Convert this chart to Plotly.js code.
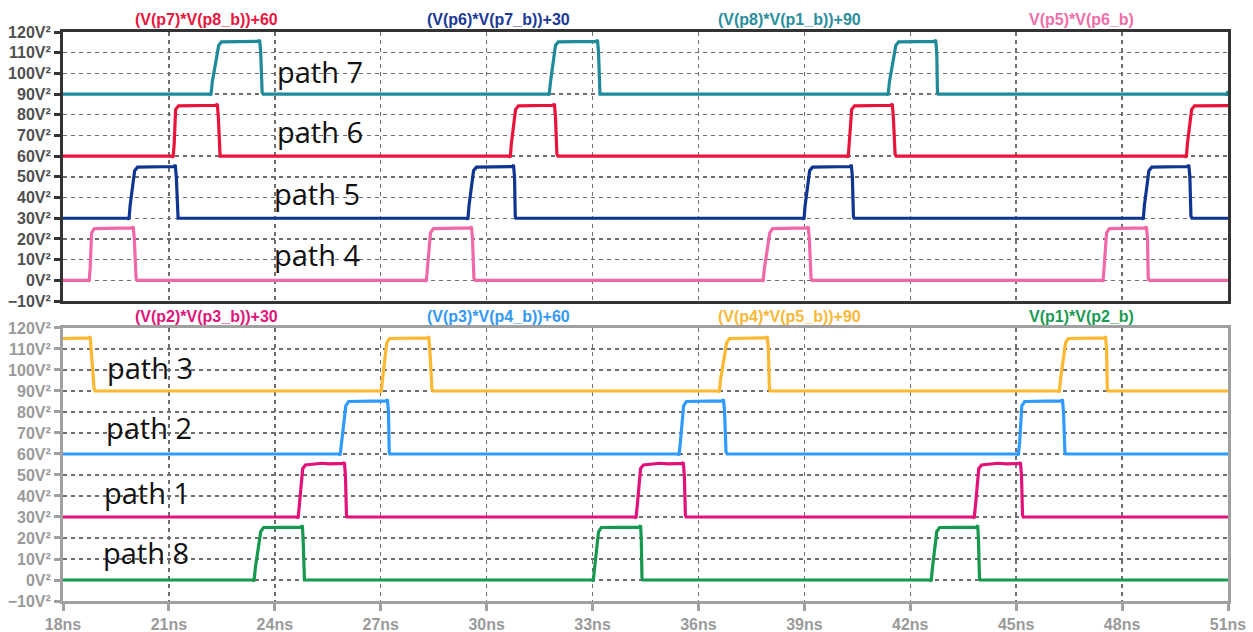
<!DOCTYPE html>
<html><head><meta charset="utf-8">
<script src="https://cdn.plot.ly/plotly-3.0.1.min.js"></script>
<style>html,body{margin:0;padding:0;background:#fff}#chart{width:1253px;height:632px}</style>
</head><body><div id="chart"></div><script>
// ---------- data (time in ns, raw product value in V^2) ----------
// top panel
const tP5P6 = [18,
 18.71,18.74,18.77,18.81,18.89,19.96,19.99,20.02,20.07,20.10,
 28.26,28.29,28.32,28.41,28.49,29.54,29.57,29.60,29.64,29.67,
 37.80,37.83,37.87,38.02,38.10,39.08,39.11,39.14,39.19,39.22,
 47.43,47.46,47.49,47.56,47.64,48.66,48.69,48.72,48.74,48.77,
 51];
const vP5P6 = [0,
 0,-0.6,6,23,25,25.3,26,20,1,0,
 0,-0.6,6,23,25,25.3,26,20,1,0,
 0,-0.6,6,23,25,25.3,26,20,1,0,
 0,-0.6,6,23,25,25.3,26,20,1,0,
 0];
const tP6P7 = [18,
 19.84,19.87,19.90,20.03,20.11,21.15,21.18,21.21,21.24,21.26,
 29.44,29.47,29.50,29.63,29.71,30.73,30.76,30.79,30.81,30.83,
 38.96,38.99,39.02,39.15,39.23,40.30,40.33,40.36,40.39,40.41,
 48.57,48.60,48.63,48.76,48.84,49.86,49.89,49.92,49.95,49.98,
 51];
const vP6P7 = [0,
 0,-0.6,6,23,24.7,25,25.8,20,1,0,
 0,-0.6,6,23,24.7,25,25.8,20,1,0,
 0,-0.6,6,23,24.7,25,25.8,20,1,0,
 0,-0.6,6,23,24.7,25,25.8,20,1,0,
 0];
const tP7P8 = [18,
 21.09,21.12,21.15,21.19,21.27,22.34,22.37,22.40,22.43,22.45,
 30.64,30.67,30.70,30.82,30.90,31.89,31.92,31.95,31.99,32.02,
 40.21,40.24,40.27,40.34,40.42,41.46,41.49,41.52,41.57,41.60,
 49.79,49.82,49.85,49.97,50.05,
 51];
const vP7P8 = [0,
 0,-0.6,6,22.5,24.3,24.6,25.3,19,1,0,
 0,-0.6,6,22.5,24.3,24.6,25.3,19,1,0,
 0,-0.6,6,22.5,24.3,24.6,25.3,19,1,0,
 0,-0.6,6,22.5,24.3,
 24.4];
const tP8P1 = [18,
 22.16,22.19,22.23,22.41,22.49,23.54,23.57,23.60,23.64,23.67,
 31.74,31.77,31.81,31.95,32.03,33.11,33.14,33.17,33.19,33.21,
 41.34,41.37,41.41,41.59,41.67,42.69,42.72,42.75,42.77,42.79,
 50.94,50.97,51];
const vP8P1 = [0,
 0,-0.6,6,23.5,25.2,25.5,26.2,20,1,0,
 0,-0.6,6,23.5,25.2,25.5,26.2,20,1,0,
 0,-0.6,6,23.5,25.2,25.5,26.2,20,1,0,
 0,-0.6,1.5];

// bottom panel
const tP4P5 = [18,18.74,18.77,18.80,18.88,18.91,
 26.98,27.01,27.05,27.17,27.25,28.33,28.36,28.39,28.45,28.48,
 36.56,36.59,36.63,36.80,36.88,37.92,37.95,37.98,38.01,38.03,
 46.19,46.22,46.26,46.40,46.48,47.50,47.53,47.56,47.58,47.60,
 51];
const vP4P5 = [25,25.3,26,20,1,0,
 0,-0.6,6,23,25,25.3,26,20,1,0,
 0,-0.6,6,23,25,25.3,26,20,1,0,
 0,-0.6,6,23,25,25.3,26,20,1,0,
 0];
const tP3P4 = [18,
 25.82,25.85,25.89,26.01,26.09,27.16,27.19,27.22,27.24,27.26,
 35.42,35.45,35.49,35.58,35.66,36.68,36.71,36.74,36.78,36.81,
 45.03,45.06,45.10,45.16,45.24,46.28,46.31,46.34,46.38,46.41,
 51];
const vP3P4 = [0,
 0,-0.6,6,23,25,25.3,26,20,1,0,
 0,-0.6,6,23,25,25.3,26,20,1,0,
 0,-0.6,6,23,25,25.3,26,20,1,0,
 0];
const tP2P3 = [18,
 24.63,24.66,24.70,24.79,24.87,25.33,25.55,25.94,25.97,26.00,26.03,26.05,
 34.20,34.23,34.27,34.36,34.44,34.90,35.15,35.54,35.57,35.60,35.63,35.65,
 43.78,43.81,43.85,43.94,44.02,44.48,44.73,45.09,45.12,45.15,45.18,45.20,
 51];
const vP2P3 = [0,
 0,-0.6,6,23,24.8,25.6,25.3,25.5,26,20,1,0,
 0,-0.6,6,23,24.8,25.6,25.3,25.5,26,20,1,0,
 0,-0.6,6,23,24.8,25.6,25.3,25.5,26,20,1,0,
 0];
const tP1P2 = [18,
 23.38,23.41,23.45,23.60,23.68,24.75,24.78,24.80,24.82,24.84,
 32.99,33.02,33.06,33.17,33.25,34.33,34.36,34.38,34.40,34.42,
 42.56,42.59,42.63,42.75,42.83,43.88,43.91,43.93,43.96,43.98,
 51];
const vP1P2 = [0,
 0,-0.6,6,23,25,25.2,26,20,1,0,
 0,-0.6,6,23,25,25.2,26,20,1,0,
 0,-0.6,6,23,25,25.2,26,20,1,0,
 0];

const seriesNames = ['(V(p7)*V(p8_b))+60','(V(p6)*V(p7_b))+30','(V(p8)*V(p1_b))+90','V(p5)*V(p6_b)',
                     '(V(p2)*V(p3_b))+30','(V(p3)*V(p4_b))+60','(V(p4)*V(p5_b))+90','V(p1)*V(p2_b)'];
const seriesOffsets = [60,30,90,0, 30,60,90,0];
const pathLabels = ['path 7','path 6','path 5','path 4','path 3','path 2','path 1','path 8'];

// ---------- build ----------
const series = [
 {t:tP7P8, v:vP7P8, c:'#e8143c', panel:'top'},
 {t:tP6P7, v:vP6P7, c:'#0e3592', panel:'top'},
 {t:tP8P1, v:vP8P1, c:'#1f8a99', panel:'top'},
 {t:tP5P6, v:vP5P6, c:'#f068a8', panel:'top'},
 {t:tP2P3, v:vP2P3, c:'#e3127a', panel:'bot'},
 {t:tP3P4, v:vP3P4, c:'#2f9bff', panel:'bot'},
 {t:tP4P5, v:vP4P5, c:'#fdb832', panel:'bot'},
 {t:tP1P2, v:vP1P2, c:'#14994e', panel:'bot'}
];
const titleColors = ['#e8163c','#1a3a96','#2a8e9c','#ef6ea9','#e0157a','#3399f5','#f8b93a','#1a9a52'];

const traces = series.map((s,i)=>({
  type:'scatter', mode:'lines', name:seriesNames[i],
  x:s.t, y:s.v.map(v=>v+seriesOffsets[i]),
  xaxis: s.panel==='top'?'x2':'x', yaxis: s.panel==='top'?'y2':'y',
  line:{color:s.c, width:3.2, shape:'linear'}, hoverinfo:'skip'
}));

const FONT = '"Liberation Sans", Arial, sans-serif';
const titleX = [22.07, 30.34, 38.59, 46.84];
const annotations = [];
seriesNames.forEach((n,i)=>{
  annotations.push({text:n, xref:'x', yref:'paper', x:titleX[i%4], y: i<4?1.0225:0.4995,
    xanchor:'center', yanchor:'middle', showarrow:false,
    font:{family:FONT, size:16, color:titleColors[i], weight:'bold'}});
});
const labelPos = [
 {x:25.28,y:101,ax:'x2',ay:'y2'},{x:25.28,y:71.7,ax:'x2',ay:'y2'},
 {x:25.2,y:42.2,ax:'x2',ay:'y2'},{x:25.2,y:12.3,ax:'x2',ay:'y2'},
 {x:20.46,y:101.4,ax:'x',ay:'y'},{x:20.43,y:72.4,ax:'x',ay:'y'},
 {x:20.38,y:41.9,ax:'x',ay:'y'},{x:20.35,y:12.9,ax:'x',ay:'y'}
];
pathLabels.forEach((p,i)=>{
  const L = labelPos[i];
  annotations.push({text:p, xref:L.ax, yref:L.ay, x:L.x, y:L.y, xanchor:'center', yanchor:'middle',
    showarrow:false, font:{family:'"Open Sans", sans-serif', size:29, color:'#111'}});
});

function yax(dom, col, labCol){
  return {domain:dom, range:[-10,120], tick0:0, dtick:10, ticksuffix:'V²', autorange:false,
    showline:true, mirror:true, linecolor:col, linewidth:3,
    ticks:'outside', ticklen:6, tickwidth:3, tickcolor:col,
    showgrid:true, gridcolor:'#6e6e6e', griddash:'4px,4px', gridwidth:1.4, zeroline:false,
    tickfont:{family:FONT, size:16, color:labCol, weight:'bold'}, fixedrange:true};
}
const layout = {
  width:1253, height:632, paper_bgcolor:'#fff', plot_bgcolor:'#fff',
  margin:{l:63, r:25, t:32, b:31}, showlegend:false, hovermode:false,
  xaxis:{domain:[0,1], anchor:'y', range:[18,51], tick0:18, dtick:3, ticksuffix:'ns',
    showline:true, mirror:true, linecolor:'#a0a0a0', linewidth:3,
    ticks:'outside', ticklen:7, tickwidth:3, tickcolor:'#a0a0a0',
    showgrid:true, gridcolor:'#6e6e6e', griddash:'4px,4px', gridwidth:1.4, zeroline:false,
    tickfont:{family:FONT, size:16, color:'#9a9a9a', weight:'bold'}, fixedrange:true},
  xaxis2:{domain:[0,1], anchor:'y2', matches:'x', range:[18,51], tick0:18, dtick:3,
    showticklabels:false, ticks:'', showline:true, mirror:true, linecolor:'#333', linewidth:3,
    showgrid:true, gridcolor:'#6e6e6e', griddash:'4px,4px', gridwidth:1.4, zeroline:false, fixedrange:true},
  yaxis: yax([0,0.4798], '#a0a0a0', '#9a9a9a'),
  yaxis2: Object.assign(yax([0.5272,1], '#333', '#505050'), {anchor:'x2'}),
  annotations
};
layout.yaxis.anchor = 'x';
Plotly.newPlot('chart', traces, layout, {staticPlot:true, displayModeBar:false});
</script></body></html>
